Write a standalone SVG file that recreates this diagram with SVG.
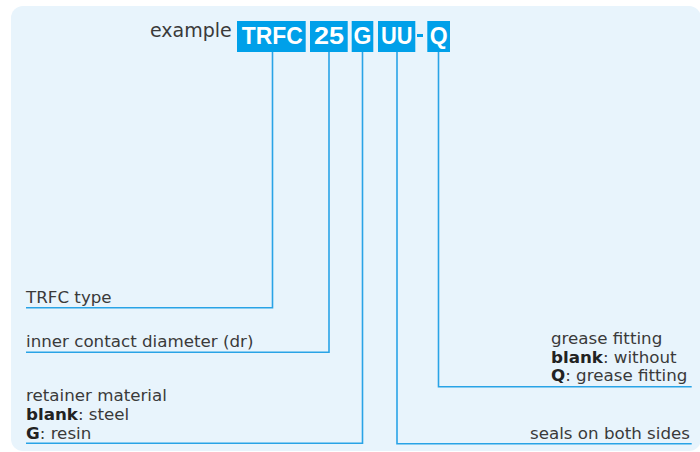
<svg xmlns="http://www.w3.org/2000/svg" width="700" height="452" viewBox="0 0 700 452">
<style>
.t{font-family:"DejaVu Sans","Liberation Sans",sans-serif;font-size:16.7px;fill:#3a3a3a}
.b{font-weight:bold;fill:#222}
.box{fill:#00a0e9}
.bt{font-family:"Liberation Sans","DejaVu Sans",sans-serif;font-weight:bold;font-size:23px;fill:#fff;text-anchor:middle}
.ln{fill:none;stroke:#29a3e6;stroke-width:1.6}
</style>
<rect x="11" y="6" width="690" height="445" rx="12" fill="#e8f4fc"/>
<g id="code">
<text x="150" y="37" style="font-family:'DejaVu Sans','Liberation Sans',sans-serif;font-size:19px;fill:#3a3a3a">example</text>
<g id="box-trfc"><rect class="box" x="237" y="21" width="68.7" height="31"/><text class="bt" x="272.3" y="44" textLength="61" lengthAdjust="spacingAndGlyphs">TRFC</text></g>
<g id="box-25"><rect class="box" x="310" y="21" width="37.7" height="31"/><text class="bt" x="329" y="44" textLength="30" lengthAdjust="spacingAndGlyphs">25</text></g>
<g id="box-g"><rect class="box" x="351.7" y="21" width="21.6" height="31"/><text class="bt" x="362.5" y="44">G</text></g>
<g id="box-uu"><rect class="box" x="378" y="21" width="37.3" height="31"/><text class="bt" x="396.7" y="44" textLength="31.5" lengthAdjust="spacingAndGlyphs">UU</text></g>
<rect x="417" y="34" width="6" height="3" fill="#00a0e9"/>
<g id="box-q"><rect class="box" x="427.3" y="21" width="22.7" height="31"/><text class="bt" x="438.7" y="44">Q</text></g>
</g>
<g id="connectors">
<polyline class="ln" points="272.5,52 272.5,307.7 26,307.7"/>
<polyline class="ln" points="329,52 329,352.3 26,352.3"/>
<polyline class="ln" points="362.5,52 362.5,443.3 26,443.3"/>
<polyline class="ln" points="397,52 397,443.7 691.7,443.7"/>
<polyline class="ln" points="438.5,52 438.5,386.7 691.7,386.7"/>
</g>
<g id="label-type"><text class="t" x="26" y="302.5">TRFC type</text></g>
<g id="label-diameter"><text class="t" x="26" y="347">inner contact diameter (dr)</text></g>
<g id="label-retainer">
<text class="t" x="26" y="400.5">retainer material</text>
<text class="t" x="26" y="419.5"><tspan class="b">blank</tspan>: steel</text>
<text class="t" x="26" y="438.5"><tspan class="b">G</tspan>: resin</text>
</g>
<g id="label-grease">
<text class="t" x="551" y="344">grease fitting</text>
<text class="t" x="551" y="362.5"><tspan class="b">blank</tspan>: without</text>
<text class="t" x="551" y="381"><tspan class="b">Q</tspan>: grease fitting</text>
</g>
<g id="label-seals"><text class="t" x="690" y="438.5" text-anchor="end">seals on both sides</text></g>
</svg>
